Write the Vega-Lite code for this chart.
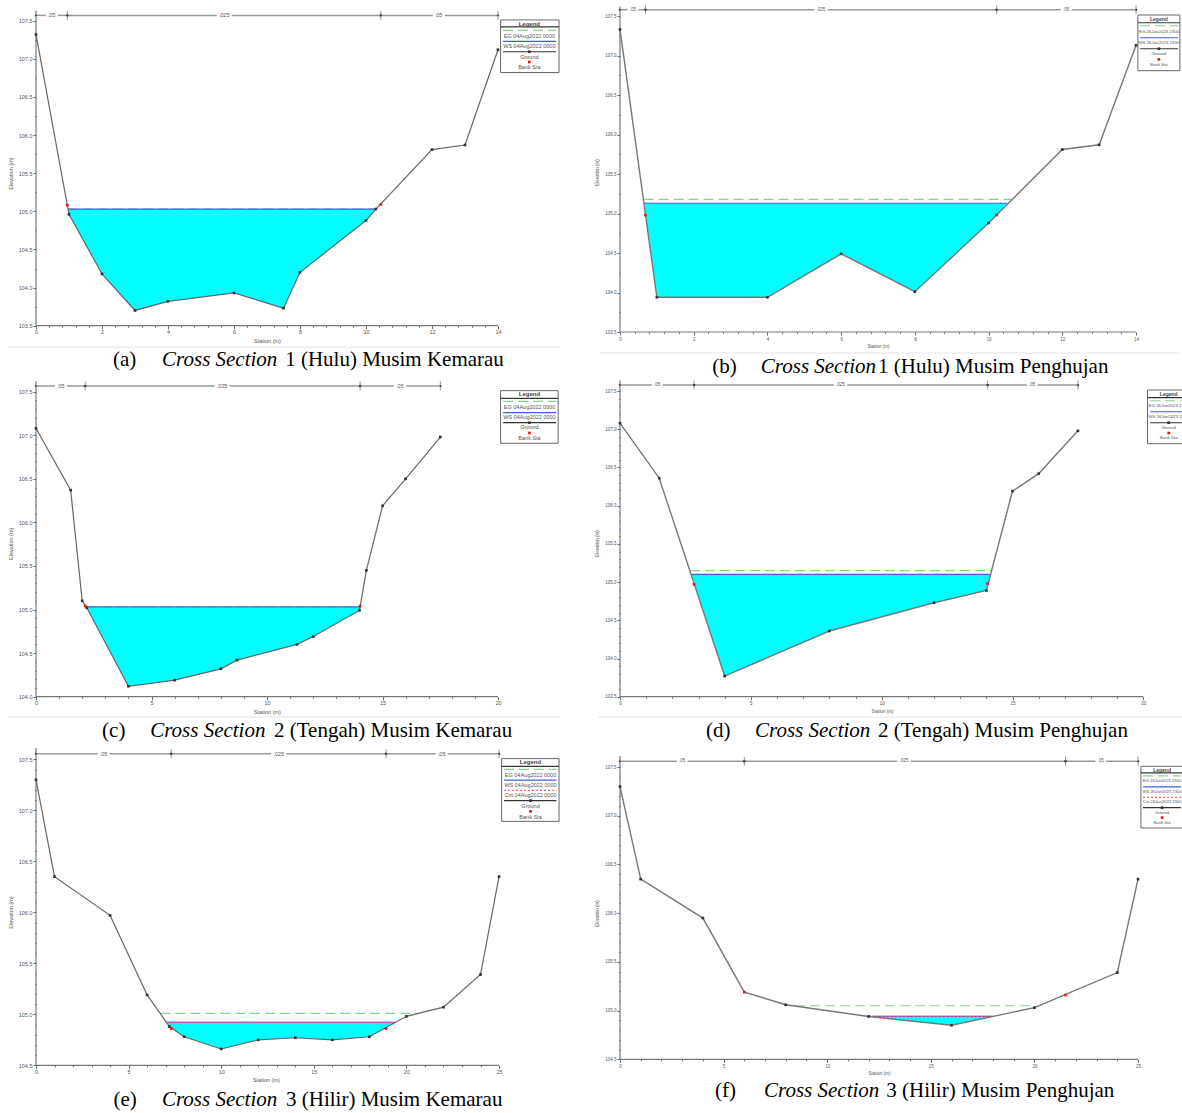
{"$schema":"https://vega.github.io/schema/vega-lite/v6.json","background":"white","padding":{"left":7,"top":5,"right":0,"bottom":0},"autosize":{"type":"pad"},"align":"none","bounds":"flush","columns":2,"spacing":{"row":40,"column":117},
"data":{"values":[{}]},
"config":{"view":{"stroke":null},"axis":{"grid":false,"domain":false,"tickCount":1000,"labelFont":"Liberation Sans","titleFont":"Liberation Sans","labelFontSize":5.5,"titleFontSize":5.5,"titleFontWeight":"normal","labelColor":"#555","titleColor":"#555","tickColor":"#666","tickWidth":1,"labelPadding":1,"labelOverlap":false,"labelFlush":false,"titleAlign":"center"},"axisX":{"titlePadding":3},"axisY":{"titlePadding":5}},
"datasets":{
"a_water":[{"station":0.97,"bed":105.03,"ws":105.03},{"station":1,"bed":104.96,"ws":105.03},{"station":2,"bed":104.18,"ws":105.03},{"station":3,"bed":103.7,"ws":105.03},{"station":4,"bed":103.82,"ws":105.03},{"station":6,"bed":103.93,"ws":105.03},{"station":7.5,"bed":103.73,"ws":105.03},{"station":8,"bed":104.2,"ws":105.03},{"station":10,"bed":104.88,"ws":105.03},{"station":10.3,"bed":105.03,"ws":105.03}],
"a_ground":[{"station":0,"elevation":107.32},{"station":1,"elevation":104.96},{"station":2,"elevation":104.18},{"station":3,"elevation":103.7},{"station":4,"elevation":103.82},{"station":6,"elevation":103.93},{"station":7.5,"elevation":103.73},{"station":8,"elevation":104.2},{"station":10,"elevation":104.88},{"station":10.3,"elevation":105.03},{"station":12,"elevation":105.81},{"station":13,"elevation":105.87},{"station":14,"elevation":107.12}],
"a_points":[{"series":"Ground","station":0,"elevation":107.32},{"series":"Ground","station":1,"elevation":104.96},{"series":"Ground","station":2,"elevation":104.18},{"series":"Ground","station":3,"elevation":103.7},{"series":"Ground","station":4,"elevation":103.82},{"series":"Ground","station":6,"elevation":103.93},{"series":"Ground","station":7.5,"elevation":103.73},{"series":"Ground","station":8,"elevation":104.2},{"series":"Ground","station":10,"elevation":104.88},{"series":"Ground","station":10.3,"elevation":105.03},{"series":"Ground","station":12,"elevation":105.81},{"series":"Ground","station":13,"elevation":105.87},{"series":"Ground","station":14,"elevation":107.12},{"series":"Bank Sta","station":0.95,"elevation":105.08},{"series":"Bank Sta","station":10.45,"elevation":105.09},{"series":"Ground","station":14.95,"elevation":107.093},{"series":"Bank Sta","station":14.95,"elevation":106.958}],
"a_levels":[{"series":"EG","from":0.97,"to":10.3,"level":105.03},{"series":"WS","from":0.97,"to":10.3,"level":105.03},{"series":"Ground","from":14.08,"to":15.85,"level":107.418},{"series":"EG","from":14.15,"to":15.76,"level":107.374},{"series":"WS","from":14.15,"to":15.76,"level":107.23},{"series":"Ground","from":14.15,"to":15.76,"level":107.093}],
"a_rail":[{"from":0,"to":0.95,"mid":0.47,"label":".05","level":107.57},{"from":0.95,"to":10.45,"mid":5.7,"label":".025","level":107.57},{"from":10.45,"to":14,"mid":12.2,"label":".05","level":107.57}],
"a_legend":[{"label":"EG 04Aug2022 0000","station":14.95,"elevation":107.303},{"label":"WS 04Aug2022 0000","station":14.95,"elevation":107.168},{"label":"Ground","station":14.95,"elevation":107.028},{"label":"Bank Sta","station":14.95,"elevation":106.888}],

"b_water":[{"station":0.65,"bed":105.13,"ws":105.13},{"station":1,"bed":103.94,"ws":105.13},{"station":4,"bed":103.94,"ws":105.13},{"station":6,"bed":104.49,"ws":105.13},{"station":8,"bed":104.01,"ws":105.13},{"station":10,"bed":104.88,"ws":105.13},{"station":10.51,"bed":105.13,"ws":105.13}],
"b_ground":[{"station":0,"elevation":107.33},{"station":1,"elevation":103.94},{"station":4,"elevation":103.94},{"station":6,"elevation":104.49},{"station":8,"elevation":104.01},{"station":10,"elevation":104.88},{"station":12,"elevation":105.81},{"station":13,"elevation":105.87},{"station":14,"elevation":107.13}],
"b_points":[{"series":"Ground","station":0,"elevation":107.33},{"series":"Ground","station":1,"elevation":103.94},{"series":"Ground","station":4,"elevation":103.94},{"series":"Ground","station":6,"elevation":104.49},{"series":"Ground","station":8,"elevation":104.01},{"series":"Ground","station":10,"elevation":104.88},{"series":"Ground","station":12,"elevation":105.81},{"series":"Ground","station":13,"elevation":105.87},{"series":"Ground","station":14,"elevation":107.13},{"series":"Bank Sta","station":0.69,"elevation":104.98},{"series":"Bank Sta","station":10.22,"elevation":104.98},{"series":"Ground","station":14.62,"elevation":107.086},{"series":"Bank Sta","station":14.62,"elevation":106.952}],
"b_levels":[{"series":"EG","from":0.64,"to":10.64,"level":105.18},{"series":"WS","from":0.65,"to":10.51,"level":105.13},{"series":"Ground","from":14.05,"to":15.19,"level":107.415},{"series":"EG","from":14.11,"to":15.14,"level":107.377},{"series":"WS","from":14.11,"to":15.14,"level":107.225},{"series":"Ground","from":14.11,"to":15.14,"level":107.086}],
"b_rail":[{"from":0,"to":0.69,"mid":0.35,"label":".05","level":107.58},{"from":0.69,"to":10.22,"mid":5.45,"label":".025","level":107.58},{"from":10.22,"to":14,"mid":12.1,"label":".05","level":107.58}],
"b_legend":[{"label":"EG 26Jan2023 2300","station":14.62,"elevation":107.301},{"label":"WS 26Jan2023 2300","station":14.62,"elevation":107.158},{"label":"Ground","station":14.62,"elevation":107.023},{"label":"Bank Sta","station":14.62,"elevation":106.88}],

"c_water":[{"station":2.18,"bed":105.03,"ws":105.03},{"station":2.2,"bed":105.02,"ws":105.03},{"station":4,"bed":104.12,"ws":105.03},{"station":6,"bed":104.19,"ws":105.03},{"station":8,"bed":104.32,"ws":105.03},{"station":8.7,"bed":104.42,"ws":105.03},{"station":11.3,"bed":104.6,"ws":105.03},{"station":12,"bed":104.69,"ws":105.03},{"station":14,"bed":104.99,"ws":105.03},{"station":14.03,"bed":105.03,"ws":105.03}],
"c_ground":[{"station":0,"elevation":107.08},{"station":1.5,"elevation":106.37},{"station":2,"elevation":105.1},{"station":2.2,"elevation":105.02},{"station":4,"elevation":104.12},{"station":6,"elevation":104.19},{"station":8,"elevation":104.32},{"station":8.7,"elevation":104.42},{"station":11.3,"elevation":104.6},{"station":12,"elevation":104.69},{"station":14,"elevation":104.99},{"station":14.3,"elevation":105.45},{"station":15,"elevation":106.19},{"station":16,"elevation":106.5},{"station":17.5,"elevation":106.98}],
"c_points":[{"series":"Ground","station":0,"elevation":107.08},{"series":"Ground","station":1.5,"elevation":106.37},{"series":"Ground","station":2,"elevation":105.1},{"series":"Ground","station":2.2,"elevation":105.02},{"series":"Ground","station":4,"elevation":104.12},{"series":"Ground","station":6,"elevation":104.19},{"series":"Ground","station":8,"elevation":104.32},{"series":"Ground","station":8.7,"elevation":104.42},{"series":"Ground","station":11.3,"elevation":104.6},{"series":"Ground","station":12,"elevation":104.69},{"series":"Ground","station":14,"elevation":104.99},{"series":"Ground","station":14.3,"elevation":105.45},{"series":"Ground","station":15,"elevation":106.19},{"series":"Ground","station":16,"elevation":106.5},{"series":"Ground","station":17.5,"elevation":106.98},{"series":"Bank Sta","station":2.13,"elevation":105.04},{"series":"Bank Sta","station":14.03,"elevation":105.04},{"series":"Ground","station":21.36,"elevation":107.144},{"series":"Bank Sta","station":21.36,"elevation":107.026}],
"c_levels":[{"series":"EG","from":2.18,"to":14.03,"level":105.03},{"series":"WS","from":2.18,"to":14.03,"level":105.03},{"series":"Ground","from":20.11,"to":22.6,"level":107.424},{"series":"EG","from":20.22,"to":22.51,"level":107.39},{"series":"WS","from":20.22,"to":22.51,"level":107.259},{"series":"Ground","from":20.22,"to":22.51,"level":107.144}],
"c_rail":[{"from":0,"to":2.13,"mid":1.07,"label":".05","level":107.565},{"from":2.13,"to":14.03,"mid":8.05,"label":".025","level":107.565},{"from":14.03,"to":17.5,"mid":15.75,"label":".05","level":107.565}],
"c_legend":[{"label":"EG 04Aug2022 0000","station":21.36,"elevation":107.324},{"label":"WS 04Aug2022 0000","station":21.36,"elevation":107.206},{"label":"Ground","station":21.36,"elevation":107.092},{"label":"Bank Sta","station":21.36,"elevation":106.965}],

"d_water":[{"station":2.72,"bed":105.1,"ws":105.1},{"station":4,"bed":103.77,"ws":105.1},{"station":8,"bed":104.36,"ws":105.1},{"station":12,"bed":104.73,"ws":105.1},{"station":14,"bed":104.89,"ws":105.1},{"station":14.16,"bed":105.1,"ws":105.1}],
"d_ground":[{"station":0,"elevation":107.08},{"station":1.5,"elevation":106.36},{"station":4,"elevation":103.77},{"station":8,"elevation":104.36},{"station":12,"elevation":104.73},{"station":14,"elevation":104.89},{"station":15,"elevation":106.19},{"station":16,"elevation":106.42},{"station":17.5,"elevation":106.98}],
"d_points":[{"series":"Ground","station":0,"elevation":107.08},{"series":"Ground","station":1.5,"elevation":106.36},{"series":"Ground","station":4,"elevation":103.77},{"series":"Ground","station":8,"elevation":104.36},{"series":"Ground","station":12,"elevation":104.73},{"series":"Ground","station":14,"elevation":104.89},{"series":"Ground","station":15,"elevation":106.19},{"series":"Ground","station":16,"elevation":106.42},{"series":"Ground","station":17.5,"elevation":106.98},{"series":"Bank Sta","station":2.83,"elevation":104.97},{"series":"Bank Sta","station":14.05,"elevation":104.98},{"series":"Ground","station":20.97,"elevation":107.086},{"series":"Bank Sta","station":20.97,"elevation":106.951}],
"d_levels":[{"series":"EG","from":2.67,"to":14.2,"level":105.15},{"series":"WS","from":2.72,"to":14.16,"level":105.1},{"series":"Ground","from":20.16,"to":21.79,"level":107.414},{"series":"EG","from":20.26,"to":21.69,"level":107.374},{"series":"WS","from":20.26,"to":21.69,"level":107.23},{"series":"Ground","from":20.26,"to":21.69,"level":107.086}],
"d_rail":[{"from":0,"to":2.83,"mid":1.42,"label":".05","level":107.58},{"from":2.83,"to":14.05,"mid":8.42,"label":".025","level":107.58},{"from":14.05,"to":17.5,"mid":15.75,"label":".05","level":107.58}],
"d_legend":[{"label":"EG 26Jan2023 2300","station":20.97,"elevation":107.305},{"label":"WS 26Jan2023 2300","station":20.97,"elevation":107.165},{"label":"Ground","station":20.97,"elevation":107.021},{"label":"Bank Sta","station":20.97,"elevation":106.882}],

"e_water":[{"station":7.05,"bed":104.92,"ws":104.92},{"station":7.2,"bed":104.88,"ws":104.92},{"station":8,"bed":104.78,"ws":104.92},{"station":10,"bed":104.66,"ws":104.92},{"station":12,"bed":104.75,"ws":104.92},{"station":14,"bed":104.77,"ws":104.92},{"station":16,"bed":104.75,"ws":104.92},{"station":18,"bed":104.78,"ws":104.92},{"station":19.4,"bed":104.92,"ws":104.92}],
"e_ground":[{"station":0,"elevation":107.3},{"station":1,"elevation":106.35},{"station":4,"elevation":105.97},{"station":6,"elevation":105.19},{"station":7.2,"elevation":104.88},{"station":8,"elevation":104.78},{"station":10,"elevation":104.66},{"station":12,"elevation":104.75},{"station":14,"elevation":104.77},{"station":16,"elevation":104.75},{"station":18,"elevation":104.78},{"station":20,"elevation":104.98},{"station":22,"elevation":105.07},{"station":24,"elevation":105.39},{"station":25,"elevation":106.35}],
"e_points":[{"series":"Ground","station":0,"elevation":107.3},{"series":"Ground","station":1,"elevation":106.35},{"series":"Ground","station":4,"elevation":105.97},{"series":"Ground","station":6,"elevation":105.19},{"series":"Ground","station":7.2,"elevation":104.88},{"series":"Ground","station":8,"elevation":104.78},{"series":"Ground","station":10,"elevation":104.66},{"series":"Ground","station":12,"elevation":104.75},{"series":"Ground","station":14,"elevation":104.77},{"series":"Ground","station":16,"elevation":104.75},{"series":"Ground","station":18,"elevation":104.78},{"series":"Ground","station":20,"elevation":104.98},{"series":"Ground","station":22,"elevation":105.07},{"series":"Ground","station":24,"elevation":105.39},{"series":"Ground","station":25,"elevation":106.35},{"series":"Bank Sta","station":7.3,"elevation":104.86},{"series":"Bank Sta","station":18.9,"elevation":104.86},{"series":"Ground","station":26.7,"elevation":107.095},{"series":"Bank Sta","station":26.7,"elevation":106.99}],
"e_levels":[{"series":"EG","from":6.71,"to":20.6,"level":105.01},{"series":"WS","from":7.05,"to":19.4,"level":104.92},{"series":"Crit","from":7.05,"to":19.4,"level":104.92},{"series":"Ground","from":25.14,"to":28.24,"level":107.431},{"series":"EG","from":25.27,"to":28.1,"level":107.402},{"series":"WS","from":25.27,"to":28.1,"level":107.297},{"series":"Crit","from":25.27,"to":28.1,"level":107.196},{"series":"Ground","from":25.27,"to":28.1,"level":107.095}],
"e_rail":[{"from":0,"to":7.3,"mid":3.65,"label":".05","level":107.555},{"from":7.3,"to":18.9,"mid":13.1,"label":".025","level":107.555},{"from":18.9,"to":25,"mid":21.9,"label":".05","level":107.555}],
"e_legend":[{"label":"EG 04Aug2022 0000","station":26.7,"elevation":107.35},{"label":"WS 04Aug2022 0000","station":26.7,"elevation":107.248},{"label":"Crit 04Aug2022 0000","station":26.7,"elevation":107.147},{"label":"Ground","station":26.7,"elevation":107.039},{"label":"Bank Sta","station":26.7,"elevation":106.938}],

"f_water":[{"station":12,"bed":104.94,"ws":104.94},{"station":16,"bed":104.85,"ws":104.94},{"station":18,"bed":104.94,"ws":104.94}],
"f_ground":[{"station":0,"elevation":107.3},{"station":1,"elevation":106.35},{"station":4,"elevation":105.95},{"station":6,"elevation":105.19},{"station":8,"elevation":105.06},{"station":12,"elevation":104.94},{"station":16,"elevation":104.85},{"station":20,"elevation":105.03},{"station":24,"elevation":105.39},{"station":25,"elevation":106.35}],
"f_points":[{"series":"Ground","station":0,"elevation":107.3},{"series":"Ground","station":1,"elevation":106.35},{"series":"Ground","station":4,"elevation":105.95},{"series":"Ground","station":8,"elevation":105.06},{"series":"Ground","station":12,"elevation":104.94},{"series":"Ground","station":16,"elevation":104.85},{"series":"Ground","station":20,"elevation":105.03},{"series":"Ground","station":24,"elevation":105.39},{"series":"Ground","station":25,"elevation":106.35},{"series":"Bank Sta","station":6,"elevation":105.19},{"series":"Bank Sta","station":21.5,"elevation":105.16},{"series":"Ground","station":26.16,"elevation":107.084},{"series":"Bank Sta","station":26.16,"elevation":106.981}],
"f_levels":[{"series":"EG","from":8.45,"to":20,"level":105.05},{"series":"WS","from":12,"to":18,"level":104.94},{"series":"Crit","from":12,"to":18,"level":104.94},{"series":"Ground","from":25.14,"to":27.17,"level":107.44},{"series":"EG","from":25.24,"to":27.07,"level":107.409},{"series":"WS","from":25.24,"to":27.07,"level":107.296},{"series":"Crit","from":25.24,"to":27.07,"level":107.19},{"series":"Ground","from":25.24,"to":27.07,"level":107.084}],
"f_rail":[{"from":0,"to":6,"mid":3,"label":".05","level":107.56},{"from":6,"to":21.5,"mid":13.7,"label":".025","level":107.56},{"from":21.5,"to":25,"mid":23.2,"label":".05","level":107.56}],
"f_legend":[{"label":"EG 26Jan2023 2300","station":26.16,"elevation":107.354},{"label":"WS 26Jan2023 2300","station":26.16,"elevation":107.244},{"label":"Crit 26Jan2023 2300","station":26.16,"elevation":107.139},{"label":"Ground","station":26.16,"elevation":107.033},{"label":"Bank Sta","station":26.16,"elevation":106.93}]
},
"concat":[
{"width":467,"height":319.7,"layer":[
{"mark":{"type":"rect","fill":"white","stroke":"#666","strokeWidth":1},"encoding":{"x":{"datum":14.08},"x2":{"datum":15.85},"y":{"datum":106.82},"y2":{"datum":107.51}}},
{"data":{"name":"a_water"},"mark":{"type":"area","color":"#00ffff"},"encoding":{"x":{"field":"station","type":"quantitative","title":"Station (m)","scale":{"domain":[0,14.152],"nice":false,"zero":false},"axis":{"titleX":231,"values":[0,0.4,0.8,1.2,1.6,2,2.4,2.8,3.2,3.6,4,4.4,4.8,5.2,5.6,6,6.4,6.8,7.2,7.6,8,8.4,8.8,9.2,9.6,10,10.4,10.8,11.2,11.6,12,12.4,12.8,13.2,13.6,14],"tickSize":{"condition":{"test":"abs(datum.value/2-round(datum.value/2))<0.001","value":3},"value":1.5},"labelExpr":"abs(datum.value/2-round(datum.value/2))<0.001?format(datum.value,'d'):''"}},"y":{"field":"bed","type":"quantitative","title":"Elevation (m)","scale":{"domain":[103.5,107.693],"nice":false,"zero":false},"axis":{"titleY":167,"values":[103.5,103.75,104,104.25,104.5,104.75,105,105.25,105.5,105.75,106,106.25,106.5,106.75,107,107.25,107.5],"tickSize":{"condition":{"test":"abs(datum.value*2-round(datum.value*2))<0.001","value":3},"value":1.5},"labelExpr":"abs(datum.value*2-round(datum.value*2))<0.001?format(datum.value,'.1f'):''"}},"y2":{"field":"ws"}}},
{"mark":{"type":"rule","color":"#777","strokeWidth":1.2},"encoding":{"x":{"datum":0},"x2":{"datum":14},"y":{"datum":103.5}}},
{"mark":{"type":"rule","color":"#777","strokeWidth":1.2},"encoding":{"x":{"datum":0},"y":{"datum":103.5},"y2":{"datum":107.63}}},
{"data":{"name":"a_levels"},"mark":{"type":"rule","strokeWidth":1.2},"encoding":{"x":{"field":"from","type":"quantitative"},"x2":{"field":"to"},"y":{"field":"level","type":"quantitative"},"color":{"field":"series","type":"nominal","legend":null,"scale":{"domain":["EG","WS","Crit","Ground","Bank Sta"],"range":["#8fcf8f","#3f5fe0","#ff6060","#333333","#ee1111"]}},"strokeDash":{"field":"series","type":"nominal","legend":null,"scale":{"domain":["EG","WS","Crit","Ground"],"range":[[10,5],[1,0],[2,2],[1,0]]}}}},
{"data":{"name":"a_ground"},"mark":{"type":"line","color":"#666","strokeWidth":1.2},"encoding":{"x":{"field":"station","type":"quantitative"},"y":{"field":"elevation","type":"quantitative"}}},
{"data":{"name":"a_rail"},"mark":{"type":"rule","color":"#999","strokeWidth":1.5},"encoding":{"x":{"field":"from","type":"quantitative"},"x2":{"field":"to"},"y":{"field":"level","type":"quantitative"}}},
{"data":{"name":"a_rail"},"mark":{"type":"tick","orient":"vertical","size":9,"thickness":1,"color":"#666"},"encoding":{"x":{"field":"to","type":"quantitative"},"y":{"field":"level","type":"quantitative"}}},
{"data":{"name":"a_rail"},"mark":{"type":"point","shape":"triangle-right","filled":true,"size":6,"color":"#333","opacity":1},"encoding":{"x":{"field":"from","type":"quantitative"},"y":{"field":"level","type":"quantitative"}}},
{"data":{"name":"a_rail"},"mark":{"type":"point","shape":"triangle-left","filled":true,"size":6,"color":"#333","opacity":1},"encoding":{"x":{"field":"to","type":"quantitative"},"y":{"field":"level","type":"quantitative"}}},
{"data":{"name":"a_rail"},"mark":{"type":"text","font":"Liberation Sans","fontSize":5.5,"color":"white","stroke":"white","strokeWidth":5},"encoding":{"x":{"field":"mid","type":"quantitative"},"y":{"field":"level","type":"quantitative"},"text":{"field":"label"}}},
{"data":{"name":"a_rail"},"mark":{"type":"text","font":"Liberation Sans","fontSize":5.5,"color":"#555"},"encoding":{"x":{"field":"mid","type":"quantitative"},"y":{"field":"level","type":"quantitative"},"text":{"field":"label"}}},
{"data":{"name":"a_points"},"mark":{"type":"point","shape":"square","filled":true,"size":7,"opacity":1},"encoding":{"x":{"field":"station","type":"quantitative"},"y":{"field":"elevation","type":"quantitative"},"color":{"field":"series","type":"nominal","legend":null}}},
{"data":{"name":"a_legend"},"mark":{"type":"text","font":"Liberation Sans","fontSize":5.5,"color":"#555"},"encoding":{"x":{"field":"station","type":"quantitative"},"y":{"field":"elevation","type":"quantitative"},"text":{"field":"label"}}},
{"mark":{"type":"text","font":"Liberation Sans","fontSize":6,"fontWeight":"bold","color":"#444"},"encoding":{"x":{"datum":14.95},"y":{"datum":107.457},"text":{"value":"Legend"}}},
{"mark":{"type":"rule","color":"#e5e5e5","strokeWidth":1},"encoding":{"x":{"datum":-0.85},"x2":{"datum":15.88},"y":{"datum":103.22}}},
{"mark":{"type":"text","font":"Liberation Serif","fontSize":21,"color":"black","align":"left"},"encoding":{"x":{"datum":2.33},"y":{"datum":103.05},"text":{"value":"(a)"}}},
{"mark":{"type":"text","font":"Liberation Serif","fontSize":21,"fontStyle":"italic","color":"black","align":"left"},"encoding":{"x":{"datum":3.82},"y":{"datum":103.05},"text":{"value":"Cross Section"}}},
{"mark":{"type":"text","font":"Liberation Serif","fontSize":21,"color":"black","align":"left"},"encoding":{"x":{"datum":7.55},"y":{"datum":103.05},"text":{"value":"1 (Hulu) Musim Kemarau"}}}
]},
{"width":562,"height":326,"layer":[
{"mark":{"type":"rect","fill":"white","stroke":"#666","strokeWidth":1},"encoding":{"x":{"datum":14.05},"x2":{"datum":15.19},"y":{"datum":106.808},"y2":{"datum":107.513}}},
{"data":{"name":"b_water"},"mark":{"type":"area","color":"#00ffff"},"encoding":{"x":{"field":"station","type":"quantitative","title":"Station (m)","scale":{"domain":[0,15.247],"nice":false,"zero":false},"axis":{"titleX":258,"labelFontSize":4.5,"titleFontSize":4.5,"values":[0,0.4,0.8,1.2,1.6,2,2.4,2.8,3.2,3.6,4,4.4,4.8,5.2,5.6,6,6.4,6.8,7.2,7.6,8,8.4,8.8,9.2,9.6,10,10.4,10.8,11.2,11.6,12,12.4,12.8,13.2,13.6,14],"tickSize":{"condition":{"test":"abs(datum.value/2-round(datum.value/2))<0.001","value":3},"value":1.5},"labelExpr":"abs(datum.value/2-round(datum.value/2))<0.001?format(datum.value,'d'):''"}},"y":{"field":"bed","type":"quantitative","title":"Elevation (m)","scale":{"domain":[103.5,107.627],"nice":false,"zero":false},"axis":{"titleY":166,"labelFontSize":4.5,"titleFontSize":4.5,"values":[103.5,103.75,104,104.25,104.5,104.75,105,105.25,105.5,105.75,106,106.25,106.5,106.75,107,107.25,107.5],"tickSize":{"condition":{"test":"abs(datum.value*2-round(datum.value*2))<0.001","value":3},"value":1.5},"labelExpr":"abs(datum.value*2-round(datum.value*2))<0.001?format(datum.value,'.1f'):''"}},"y2":{"field":"ws"}}},
{"mark":{"type":"rule","color":"#777","strokeWidth":1.2},"encoding":{"x":{"datum":0},"x2":{"datum":14},"y":{"datum":103.5}}},
{"mark":{"type":"rule","color":"#777","strokeWidth":1.2},"encoding":{"x":{"datum":0},"y":{"datum":103.5},"y2":{"datum":107.62}}},
{"data":{"name":"b_levels"},"mark":{"type":"rule","strokeWidth":1.2},"encoding":{"x":{"field":"from","type":"quantitative"},"x2":{"field":"to"},"y":{"field":"level","type":"quantitative"},"color":{"field":"series","type":"nominal","legend":null,"scale":{"domain":["EG","WS","Crit","Ground","Bank Sta"],"range":["#8fcf8f","#3f5fe0","#ff6060","#333333","#ee1111"]}},"strokeDash":{"field":"series","type":"nominal","legend":null,"scale":{"domain":["EG","WS","Crit","Ground"],"range":[[10,5],[1,0],[2,2],[1,0]]}}}},
{"data":{"name":"b_ground"},"mark":{"type":"line","color":"#777","strokeWidth":1.4},"encoding":{"x":{"field":"station","type":"quantitative"},"y":{"field":"elevation","type":"quantitative"}}},
{"data":{"name":"b_rail"},"mark":{"type":"rule","color":"#999","strokeWidth":1.5},"encoding":{"x":{"field":"from","type":"quantitative"},"x2":{"field":"to"},"y":{"field":"level","type":"quantitative"}}},
{"data":{"name":"b_rail"},"mark":{"type":"tick","orient":"vertical","size":9,"thickness":1,"color":"#666"},"encoding":{"x":{"field":"to","type":"quantitative"},"y":{"field":"level","type":"quantitative"}}},
{"data":{"name":"b_rail"},"mark":{"type":"point","shape":"triangle-right","filled":true,"size":6,"color":"#333","opacity":1},"encoding":{"x":{"field":"from","type":"quantitative"},"y":{"field":"level","type":"quantitative"}}},
{"data":{"name":"b_rail"},"mark":{"type":"point","shape":"triangle-left","filled":true,"size":6,"color":"#333","opacity":1},"encoding":{"x":{"field":"to","type":"quantitative"},"y":{"field":"level","type":"quantitative"}}},
{"data":{"name":"b_rail"},"mark":{"type":"text","font":"Liberation Sans","fontSize":4.5,"color":"white","stroke":"white","strokeWidth":5},"encoding":{"x":{"field":"mid","type":"quantitative"},"y":{"field":"level","type":"quantitative"},"text":{"field":"label"}}},
{"data":{"name":"b_rail"},"mark":{"type":"text","font":"Liberation Sans","fontSize":4.5,"color":"#555"},"encoding":{"x":{"field":"mid","type":"quantitative"},"y":{"field":"level","type":"quantitative"},"text":{"field":"label"}}},
{"data":{"name":"b_points"},"mark":{"type":"point","shape":"square","filled":true,"size":7,"opacity":1},"encoding":{"x":{"field":"station","type":"quantitative"},"y":{"field":"elevation","type":"quantitative"},"color":{"field":"series","type":"nominal","legend":null}}},
{"data":{"name":"b_legend"},"mark":{"type":"text","font":"Liberation Sans","fontSize":4.4,"color":"#555"},"encoding":{"x":{"field":"station","type":"quantitative"},"y":{"field":"elevation","type":"quantitative"},"text":{"field":"label"}}},
{"mark":{"type":"text","font":"Liberation Sans","fontSize":5,"fontWeight":"bold","color":"#444"},"encoding":{"x":{"datum":14.62},"y":{"datum":107.466},"text":{"value":"Legend"}}},
{"mark":{"type":"rule","color":"#e5e5e5","strokeWidth":1},"encoding":{"x":{"datum":-0.54},"x2":{"datum":15.19},"y":{"datum":103.234}}},
{"mark":{"type":"text","font":"Liberation Serif","fontSize":21,"color":"black","align":"left"},"encoding":{"x":{"datum":2.5},"y":{"datum":103.06},"text":{"value":"(b)"}}},
{"mark":{"type":"text","font":"Liberation Serif","fontSize":21,"fontStyle":"italic","color":"black","align":"left"},"encoding":{"x":{"datum":3.82},"y":{"datum":103.06},"text":{"value":"Cross Section"}}},
{"mark":{"type":"text","font":"Liberation Serif","fontSize":21,"color":"black","align":"left"},"encoding":{"x":{"datum":7.0},"y":{"datum":103.06},"text":{"value":"1 (Hulu) Musim Penghujan"}}}
]},
{"width":463,"height":324.7,"layer":[
{"mark":{"type":"rect","fill":"white","stroke":"#666","strokeWidth":1},"encoding":{"x":{"datum":20.11},"x2":{"datum":22.6},"y":{"datum":106.908},"y2":{"datum":107.512}}},
{"data":{"name":"c_water"},"mark":{"type":"area","color":"#00ffff"},"encoding":{"x":{"field":"station","type":"quantitative","title":"Station (m)","scale":{"domain":[0,20.04],"nice":false,"zero":false},"axis":{"titleX":231,"values":[0,1,2,3,4,5,6,7,8,9,10,11,12,13,14,15,16,17,18,19,20],"tickSize":{"condition":{"test":"datum.value%5==0","value":3},"value":1.5},"labelExpr":"datum.value%5==0?format(datum.value,'d'):''"}},"y":{"field":"bed","type":"quantitative","title":"Elevation (m)","scale":{"domain":[104,107.726],"nice":false,"zero":false},"axis":{"titleY":171.3,"values":[104,104.1,104.2,104.3,104.4,104.5,104.6,104.7,104.8,104.9,105,105.1,105.2,105.3,105.4,105.5,105.6,105.7,105.8,105.9,106,106.1,106.2,106.3,106.4,106.5,106.6,106.7,106.8,106.9,107,107.1,107.2,107.3,107.4,107.5],"tickSize":{"condition":{"test":"abs(datum.value*2-round(datum.value*2))<0.001","value":3},"value":1.5},"labelExpr":"abs(datum.value*2-round(datum.value*2))<0.001?format(datum.value,'.1f'):''"}},"y2":{"field":"ws"}}},
{"mark":{"type":"rule","color":"#777","strokeWidth":1.2},"encoding":{"x":{"datum":0},"x2":{"datum":20},"y":{"datum":104}}},
{"mark":{"type":"rule","color":"#777","strokeWidth":1.2},"encoding":{"x":{"datum":0},"y":{"datum":104},"y2":{"datum":107.62}}},
{"data":{"name":"c_levels"},"mark":{"type":"rule","strokeWidth":1.2},"encoding":{"x":{"field":"from","type":"quantitative"},"x2":{"field":"to"},"y":{"field":"level","type":"quantitative"},"color":{"field":"series","type":"nominal","legend":null,"scale":{"domain":["EG","WS","Crit","Ground","Bank Sta"],"range":["#8fcf8f","#3f5fe0","#ff6060","#333333","#ee1111"]}},"strokeDash":{"field":"series","type":"nominal","legend":null,"scale":{"domain":["EG","WS","Crit","Ground"],"range":[[10,5],[1,0],[2,2],[1,0]]}}}},
{"data":{"name":"c_ground"},"mark":{"type":"line","color":"#666","strokeWidth":1.2},"encoding":{"x":{"field":"station","type":"quantitative"},"y":{"field":"elevation","type":"quantitative"}}},
{"data":{"name":"c_rail"},"mark":{"type":"rule","color":"#999","strokeWidth":1.5},"encoding":{"x":{"field":"from","type":"quantitative"},"x2":{"field":"to"},"y":{"field":"level","type":"quantitative"}}},
{"data":{"name":"c_rail"},"mark":{"type":"tick","orient":"vertical","size":9,"thickness":1,"color":"#666"},"encoding":{"x":{"field":"to","type":"quantitative"},"y":{"field":"level","type":"quantitative"}}},
{"data":{"name":"c_rail"},"mark":{"type":"point","shape":"triangle-right","filled":true,"size":6,"color":"#333","opacity":1},"encoding":{"x":{"field":"from","type":"quantitative"},"y":{"field":"level","type":"quantitative"}}},
{"data":{"name":"c_rail"},"mark":{"type":"point","shape":"triangle-left","filled":true,"size":6,"color":"#333","opacity":1},"encoding":{"x":{"field":"to","type":"quantitative"},"y":{"field":"level","type":"quantitative"}}},
{"data":{"name":"c_rail"},"mark":{"type":"text","font":"Liberation Sans","fontSize":5.5,"color":"white","stroke":"white","strokeWidth":5},"encoding":{"x":{"field":"mid","type":"quantitative"},"y":{"field":"level","type":"quantitative"},"text":{"field":"label"}}},
{"data":{"name":"c_rail"},"mark":{"type":"text","font":"Liberation Sans","fontSize":5.5,"color":"#555"},"encoding":{"x":{"field":"mid","type":"quantitative"},"y":{"field":"level","type":"quantitative"},"text":{"field":"label"}}},
{"data":{"name":"c_points"},"mark":{"type":"point","shape":"square","filled":true,"size":7,"opacity":1},"encoding":{"x":{"field":"station","type":"quantitative"},"y":{"field":"elevation","type":"quantitative"},"color":{"field":"series","type":"nominal","legend":null}}},
{"data":{"name":"c_legend"},"mark":{"type":"text","font":"Liberation Sans","fontSize":5.5,"color":"#555"},"encoding":{"x":{"field":"station","type":"quantitative"},"y":{"field":"elevation","type":"quantitative"},"text":{"field":"label"}}},
{"mark":{"type":"text","font":"Liberation Sans","fontSize":6,"fontWeight":"bold","color":"#444"},"encoding":{"x":{"datum":21.36},"y":{"datum":107.47},"text":{"value":"Legend"}}},
{"mark":{"type":"rule","color":"#e5e5e5","strokeWidth":1},"encoding":{"x":{"datum":-1.21},"x2":{"datum":22.7},"y":{"datum":103.767}}},
{"mark":{"type":"text","font":"Liberation Serif","fontSize":21,"color":"black","align":"left"},"encoding":{"x":{"datum":2.86},"y":{"datum":103.61},"text":{"value":"(c)"}}},
{"mark":{"type":"text","font":"Liberation Serif","fontSize":21,"fontStyle":"italic","color":"black","align":"left"},"encoding":{"x":{"datum":4.94},"y":{"datum":103.61},"text":{"value":"Cross Section"}}},
{"mark":{"type":"text","font":"Liberation Serif","fontSize":21,"color":"black","align":"left"},"encoding":{"x":{"datum":10.3},"y":{"datum":103.61},"text":{"value":"2 (Tengah) Musim Kemarau"}}}
]},
{"width":566,"height":324.7,"layer":[
{"mark":{"type":"rect","fill":"white","stroke":"#666","strokeWidth":1,"clip":true},"encoding":{"x":{"datum":20.16},"x2":{"datum":21.79},"y":{"datum":106.811},"y2":{"datum":107.514}}},
{"data":{"name":"d_water"},"mark":{"type":"area","color":"#00ffff"},"encoding":{"x":{"field":"station","type":"quantitative","title":"Station (m)","scale":{"domain":[0,21.63],"nice":false,"zero":false},"axis":{"titleX":262,"labelFontSize":4.5,"titleFontSize":4.5,"values":[0,1,2,3,4,5,6,7,8,9,10,11,12,13,14,15,16,17,18,19,20],"tickSize":{"condition":{"test":"datum.value%5==0","value":3},"value":1.5},"labelExpr":"datum.value%5==0?format(datum.value,'d'):''"}},"y":{"field":"bed","type":"quantitative","title":"Elevation (m)","scale":{"domain":[103.5,107.75],"nice":false,"zero":false},"axis":{"titleY":171,"labelFontSize":4.5,"titleFontSize":4.5,"values":[103.5,103.6,103.7,103.8,103.9,104,104.1,104.2,104.3,104.4,104.5,104.6,104.7,104.8,104.9,105,105.1,105.2,105.3,105.4,105.5,105.6,105.7,105.8,105.9,106,106.1,106.2,106.3,106.4,106.5,106.6,106.7,106.8,106.9,107,107.1,107.2,107.3,107.4,107.5],"tickSize":{"condition":{"test":"abs(datum.value*2-round(datum.value*2))<0.001","value":3},"value":1.5},"labelExpr":"abs(datum.value*2-round(datum.value*2))<0.001?format(datum.value,'.1f'):''"}},"y2":{"field":"ws"}}},
{"mark":{"type":"rule","color":"#777","strokeWidth":1.2},"encoding":{"x":{"datum":0},"x2":{"datum":20},"y":{"datum":103.5}}},
{"mark":{"type":"rule","color":"#777","strokeWidth":1.2},"encoding":{"x":{"datum":0},"y":{"datum":103.5},"y2":{"datum":107.64}}},
{"data":{"name":"d_levels"},"mark":{"type":"rule","strokeWidth":1.2,"clip":true},"encoding":{"x":{"field":"from","type":"quantitative"},"x2":{"field":"to"},"y":{"field":"level","type":"quantitative"},"color":{"field":"series","type":"nominal","legend":null,"scale":{"domain":["EG","WS","Crit","Ground","Bank Sta"],"range":["#8fcf8f","#3f5fe0","#ff6060","#333333","#ee1111"]}},"strokeDash":{"field":"series","type":"nominal","legend":null,"scale":{"domain":["EG","WS","Crit","Ground"],"range":[[10,5],[1,0],[2,2],[1,0]]}}}},
{"data":{"name":"d_ground"},"mark":{"type":"line","color":"#777","strokeWidth":1.4},"encoding":{"x":{"field":"station","type":"quantitative"},"y":{"field":"elevation","type":"quantitative"}}},
{"data":{"name":"d_rail"},"mark":{"type":"rule","color":"#999","strokeWidth":1.5},"encoding":{"x":{"field":"from","type":"quantitative"},"x2":{"field":"to"},"y":{"field":"level","type":"quantitative"}}},
{"data":{"name":"d_rail"},"mark":{"type":"tick","orient":"vertical","size":9,"thickness":1,"color":"#666"},"encoding":{"x":{"field":"to","type":"quantitative"},"y":{"field":"level","type":"quantitative"}}},
{"data":{"name":"d_rail"},"mark":{"type":"point","shape":"triangle-right","filled":true,"size":6,"color":"#333","opacity":1},"encoding":{"x":{"field":"from","type":"quantitative"},"y":{"field":"level","type":"quantitative"}}},
{"data":{"name":"d_rail"},"mark":{"type":"point","shape":"triangle-left","filled":true,"size":6,"color":"#333","opacity":1},"encoding":{"x":{"field":"to","type":"quantitative"},"y":{"field":"level","type":"quantitative"}}},
{"data":{"name":"d_rail"},"mark":{"type":"text","font":"Liberation Sans","fontSize":4.5,"color":"white","stroke":"white","strokeWidth":5},"encoding":{"x":{"field":"mid","type":"quantitative"},"y":{"field":"level","type":"quantitative"},"text":{"field":"label"}}},
{"data":{"name":"d_rail"},"mark":{"type":"text","font":"Liberation Sans","fontSize":4.5,"color":"#555"},"encoding":{"x":{"field":"mid","type":"quantitative"},"y":{"field":"level","type":"quantitative"},"text":{"field":"label"}}},
{"data":{"name":"d_points"},"mark":{"type":"point","shape":"square","filled":true,"size":7,"opacity":1},"encoding":{"x":{"field":"station","type":"quantitative"},"y":{"field":"elevation","type":"quantitative"},"color":{"field":"series","type":"nominal","legend":null}}},
{"data":{"name":"d_legend"},"mark":{"type":"text","font":"Liberation Sans","fontSize":4.4,"color":"#555","clip":true},"encoding":{"x":{"field":"station","type":"quantitative"},"y":{"field":"elevation","type":"quantitative"},"text":{"field":"label"}}},
{"mark":{"type":"text","font":"Liberation Sans","fontSize":5,"fontWeight":"bold","color":"#444"},"encoding":{"x":{"datum":20.97},"y":{"datum":107.466},"text":{"value":"Legend"}}},
{"mark":{"type":"rule","color":"#e5e5e5","strokeWidth":1},"encoding":{"x":{"datum":-0.84},"x2":{"datum":21.63},"y":{"datum":103.234}}},
{"mark":{"type":"text","font":"Liberation Serif","fontSize":21,"color":"black","align":"left"},"encoding":{"x":{"datum":3.29},"y":{"datum":103.055},"text":{"value":"(d)"}}},
{"mark":{"type":"text","font":"Liberation Serif","fontSize":21,"fontStyle":"italic","color":"black","align":"left"},"encoding":{"x":{"datum":5.16},"y":{"datum":103.055},"text":{"value":"Cross Section"}}},
{"mark":{"type":"text","font":"Liberation Serif","fontSize":21,"color":"black","align":"left"},"encoding":{"x":{"datum":9.86},"y":{"datum":103.055},"text":{"value":"2 (Tengah) Musim Penghujan"}}}
]},
{"width":466,"height":328.3,"layer":[
{"mark":{"type":"rect","fill":"white","stroke":"#666","strokeWidth":1},"encoding":{"x":{"datum":25.14},"x2":{"datum":28.24},"y":{"datum":106.892},"y2":{"datum":107.507}}},
{"data":{"name":"e_water"},"mark":{"type":"area","color":"#00ffff"},"encoding":{"x":{"field":"station","type":"quantitative","title":"Station (m)","scale":{"domain":[0,25.16],"nice":false,"zero":false},"axis":{"titleX":230,"values":[0,1,2,3,4,5,6,7,8,9,10,11,12,13,14,15,16,17,18,19,20,21,22,23,24,25],"tickSize":{"condition":{"test":"datum.value%5==0","value":3},"value":1.5},"labelExpr":"datum.value%5==0?format(datum.value,'d'):''"}},"y":{"field":"bed","type":"quantitative","title":"Elevation (m)","scale":{"domain":[104.5,107.719],"nice":false,"zero":false},"axis":{"titleY":175,"values":[104.5,104.6,104.7,104.8,104.9,105,105.1,105.2,105.3,105.4,105.5,105.6,105.7,105.8,105.9,106,106.1,106.2,106.3,106.4,106.5,106.6,106.7,106.8,106.9,107,107.1,107.2,107.3,107.4,107.5],"tickSize":{"condition":{"test":"abs(datum.value*2-round(datum.value*2))<0.001","value":3},"value":1.5},"labelExpr":"abs(datum.value*2-round(datum.value*2))<0.001?format(datum.value,'.1f'):''"}},"y2":{"field":"ws"}}},
{"mark":{"type":"rule","color":"#777","strokeWidth":1.2},"encoding":{"x":{"datum":0},"x2":{"datum":25},"y":{"datum":104.5}}},
{"mark":{"type":"rule","color":"#777","strokeWidth":1.2},"encoding":{"x":{"datum":0},"y":{"datum":104.5},"y2":{"datum":107.61}}},
{"data":{"name":"e_levels"},"mark":{"type":"rule","strokeWidth":1.2},"encoding":{"x":{"field":"from","type":"quantitative"},"x2":{"field":"to"},"y":{"field":"level","type":"quantitative"},"color":{"field":"series","type":"nominal","legend":null,"scale":{"domain":["EG","WS","Crit","Ground","Bank Sta"],"range":["#8fcf8f","#3f5fe0","#ff6060","#333333","#ee1111"]}},"strokeDash":{"field":"series","type":"nominal","legend":null,"scale":{"domain":["EG","WS","Crit","Ground"],"range":[[10,5],[1,0],[2,2],[1,0]]}}}},
{"data":{"name":"e_ground"},"mark":{"type":"line","color":"#666","strokeWidth":1.2},"encoding":{"x":{"field":"station","type":"quantitative"},"y":{"field":"elevation","type":"quantitative"}}},
{"data":{"name":"e_rail"},"mark":{"type":"rule","color":"#999","strokeWidth":1.5},"encoding":{"x":{"field":"from","type":"quantitative"},"x2":{"field":"to"},"y":{"field":"level","type":"quantitative"}}},
{"data":{"name":"e_rail"},"mark":{"type":"tick","orient":"vertical","size":9,"thickness":1,"color":"#666"},"encoding":{"x":{"field":"to","type":"quantitative"},"y":{"field":"level","type":"quantitative"}}},
{"data":{"name":"e_rail"},"mark":{"type":"point","shape":"triangle-right","filled":true,"size":6,"color":"#333","opacity":1},"encoding":{"x":{"field":"from","type":"quantitative"},"y":{"field":"level","type":"quantitative"}}},
{"data":{"name":"e_rail"},"mark":{"type":"point","shape":"triangle-left","filled":true,"size":6,"color":"#333","opacity":1},"encoding":{"x":{"field":"to","type":"quantitative"},"y":{"field":"level","type":"quantitative"}}},
{"data":{"name":"e_rail"},"mark":{"type":"text","font":"Liberation Sans","fontSize":5.5,"color":"white","stroke":"white","strokeWidth":5},"encoding":{"x":{"field":"mid","type":"quantitative"},"y":{"field":"level","type":"quantitative"},"text":{"field":"label"}}},
{"data":{"name":"e_rail"},"mark":{"type":"text","font":"Liberation Sans","fontSize":5.5,"color":"#555"},"encoding":{"x":{"field":"mid","type":"quantitative"},"y":{"field":"level","type":"quantitative"},"text":{"field":"label"}}},
{"data":{"name":"e_points"},"mark":{"type":"point","shape":"square","filled":true,"size":7,"opacity":1},"encoding":{"x":{"field":"station","type":"quantitative"},"y":{"field":"elevation","type":"quantitative"},"color":{"field":"series","type":"nominal","legend":null}}},
{"data":{"name":"e_legend"},"mark":{"type":"text","font":"Liberation Sans","fontSize":5.5,"color":"#555"},"encoding":{"x":{"field":"station","type":"quantitative"},"y":{"field":"elevation","type":"quantitative"},"text":{"field":"label"}}},
{"mark":{"type":"text","font":"Liberation Sans","fontSize":6,"fontWeight":"bold","color":"#444"},"encoding":{"x":{"datum":26.7},"y":{"datum":107.47},"text":{"value":"Legend"}}},
{"mark":{"type":"text","font":"Liberation Serif","fontSize":21,"color":"black","align":"left"},"encoding":{"x":{"datum":4.18},"y":{"datum":104.157},"text":{"value":"(e)"}}},
{"mark":{"type":"text","font":"Liberation Serif","fontSize":21,"fontStyle":"italic","color":"black","align":"left"},"encoding":{"x":{"datum":6.8},"y":{"datum":104.157},"text":{"value":"Cross Section"}}},
{"mark":{"type":"text","font":"Liberation Serif","fontSize":21,"color":"black","align":"left"},"encoding":{"x":{"datum":13.5},"y":{"datum":104.157},"text":{"value":"3 (Hilir) Musim Kemarau"}}}
]},
{"width":563,"height":322.3,"layer":[
{"mark":{"type":"rect","fill":"white","stroke":"#666","strokeWidth":1},"encoding":{"x":{"datum":25.14},"x2":{"datum":27.17},"y":{"datum":106.875},"y2":{"datum":107.508}}},
{"data":{"name":"f_water"},"mark":{"type":"area","color":"#00ffff"},"encoding":{"x":{"field":"station","type":"quantitative","title":"Station (m)","scale":{"domain":[0,27.17],"nice":false,"zero":false},"axis":{"titleX":259,"labelFontSize":4.5,"titleFontSize":4.5,"values":[0,1,2,3,4,5,6,7,8,9,10,11,12,13,14,15,16,17,18,19,20,21,22,23,24,25],"tickSize":{"condition":{"test":"datum.value%5==0","value":3},"value":1.5},"labelExpr":"datum.value%5==0?format(datum.value,'d'):''"}},"y":{"field":"bed","type":"quantitative","title":"Elevation (m)","scale":{"domain":[104.5,107.809],"nice":false,"zero":false},"axis":{"titleY":176,"labelFontSize":4.5,"titleFontSize":4.5,"values":[104.5,104.6,104.7,104.8,104.9,105,105.1,105.2,105.3,105.4,105.5,105.6,105.7,105.8,105.9,106,106.1,106.2,106.3,106.4,106.5,106.6,106.7,106.8,106.9,107,107.1,107.2,107.3,107.4,107.5],"tickSize":{"condition":{"test":"abs(datum.value*2-round(datum.value*2))<0.001","value":3},"value":1.5},"labelExpr":"abs(datum.value*2-round(datum.value*2))<0.001?format(datum.value,'.1f'):''"}},"y2":{"field":"ws"}}},
{"mark":{"type":"rule","color":"#777","strokeWidth":1.2},"encoding":{"x":{"datum":0},"x2":{"datum":25},"y":{"datum":104.5}}},
{"mark":{"type":"rule","color":"#777","strokeWidth":1.2},"encoding":{"x":{"datum":0},"y":{"datum":104.5},"y2":{"datum":107.615}}},
{"data":{"name":"f_levels"},"mark":{"type":"rule","strokeWidth":1.2},"encoding":{"x":{"field":"from","type":"quantitative"},"x2":{"field":"to"},"y":{"field":"level","type":"quantitative"},"color":{"field":"series","type":"nominal","legend":null,"scale":{"domain":["EG","WS","Crit","Ground","Bank Sta"],"range":["#8fcf8f","#3f5fe0","#ff6060","#333333","#ee1111"]}},"strokeDash":{"field":"series","type":"nominal","legend":null,"scale":{"domain":["EG","WS","Crit","Ground"],"range":[[10,5],[1,0],[2,2],[1,0]]}}}},
{"data":{"name":"f_ground"},"mark":{"type":"line","color":"#777","strokeWidth":1.4},"encoding":{"x":{"field":"station","type":"quantitative"},"y":{"field":"elevation","type":"quantitative"}}},
{"data":{"name":"f_rail"},"mark":{"type":"rule","color":"#999","strokeWidth":1.5},"encoding":{"x":{"field":"from","type":"quantitative"},"x2":{"field":"to"},"y":{"field":"level","type":"quantitative"}}},
{"data":{"name":"f_rail"},"mark":{"type":"tick","orient":"vertical","size":9,"thickness":1,"color":"#666"},"encoding":{"x":{"field":"to","type":"quantitative"},"y":{"field":"level","type":"quantitative"}}},
{"data":{"name":"f_rail"},"mark":{"type":"point","shape":"triangle-right","filled":true,"size":6,"color":"#333","opacity":1},"encoding":{"x":{"field":"from","type":"quantitative"},"y":{"field":"level","type":"quantitative"}}},
{"data":{"name":"f_rail"},"mark":{"type":"point","shape":"triangle-left","filled":true,"size":6,"color":"#333","opacity":1},"encoding":{"x":{"field":"to","type":"quantitative"},"y":{"field":"level","type":"quantitative"}}},
{"data":{"name":"f_rail"},"mark":{"type":"text","font":"Liberation Sans","fontSize":4.5,"color":"white","stroke":"white","strokeWidth":5},"encoding":{"x":{"field":"mid","type":"quantitative"},"y":{"field":"level","type":"quantitative"},"text":{"field":"label"}}},
{"data":{"name":"f_rail"},"mark":{"type":"text","font":"Liberation Sans","fontSize":4.5,"color":"#555"},"encoding":{"x":{"field":"mid","type":"quantitative"},"y":{"field":"level","type":"quantitative"},"text":{"field":"label"}}},
{"data":{"name":"f_points"},"mark":{"type":"point","shape":"square","filled":true,"size":7,"opacity":1},"encoding":{"x":{"field":"station","type":"quantitative"},"y":{"field":"elevation","type":"quantitative"},"color":{"field":"series","type":"nominal","legend":null}}},
{"data":{"name":"f_legend"},"mark":{"type":"text","font":"Liberation Sans","fontSize":4.2,"color":"#555"},"encoding":{"x":{"field":"station","type":"quantitative"},"y":{"field":"elevation","type":"quantitative"},"text":{"field":"label"}}},
{"mark":{"type":"text","font":"Liberation Sans","fontSize":5,"fontWeight":"bold","color":"#444"},"encoding":{"x":{"datum":26.16},"y":{"datum":107.474},"text":{"value":"Legend"}}},
{"mark":{"type":"text","font":"Liberation Serif","fontSize":21,"color":"black","align":"left"},"encoding":{"x":{"datum":4.58},"y":{"datum":104.17},"text":{"value":"(f)"}}},
{"mark":{"type":"text","font":"Liberation Serif","fontSize":21,"fontStyle":"italic","color":"black","align":"left"},"encoding":{"x":{"datum":6.95},"y":{"datum":104.17},"text":{"value":"Cross Section"}}},
{"mark":{"type":"text","font":"Liberation Serif","fontSize":21,"color":"black","align":"left"},"encoding":{"x":{"datum":12.85},"y":{"datum":104.17},"text":{"value":"3 (Hilir) Musim Penghujan"}}}
]}
]}
